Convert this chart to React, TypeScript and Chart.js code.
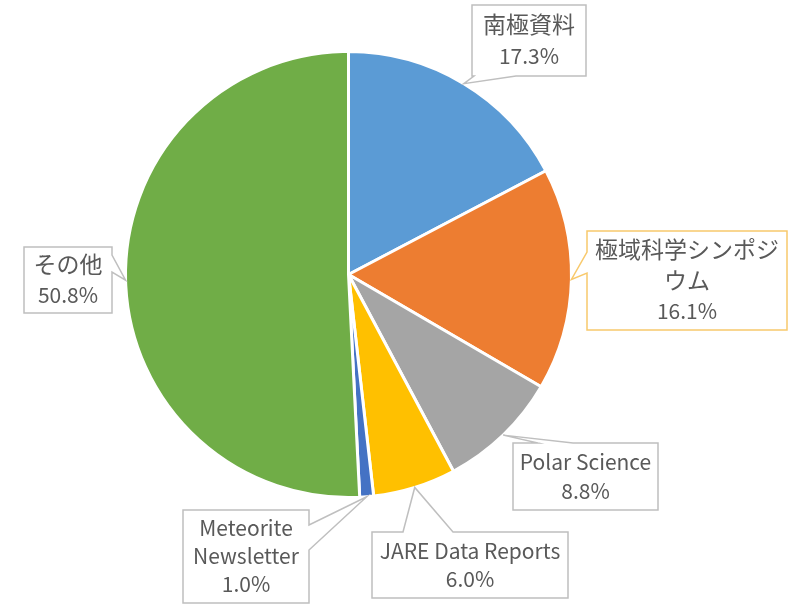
import React, { useEffect, useRef } from "react";
import { Chart, registerables } from "chart.js";

Chart.register(...registerables);

const categories = ["南極資料", "極域科学シンポジウム", "Polar Science", "JARE Data Reports", "Meteorite Newsletter", "その他"];
const shares = [17.3, 16.1, 8.8, 6.0, 1.0, 50.8];
const labelLines = [
  ["南極資料"],
  ["極域科学シンポジ", "ウム"],
  ["Polar Science"],
  ["JARE Data Reports"],
  ["Meteorite", "Newsletter"],
  ["その他"],
];
const sliceColors = ["#5B9BD5", "#ED7D31", "#A5A5A5", "#FFC000", "#4472C4", "#70AD47"];

type Callout = { x: number; y: number; w: number; h: number; side: "top" | "bottom" | "left" | "right"; a: number; b: number; border: string; lh: number };

const callouts: Callout[] = [
  { x: 472, y: 5, w: 114, h: 71, side: "bottom", a: 474, b: 516, border: "#BFBFBF", lh: 32 },
  { x: 587, y: 231, w: 200, h: 99, side: "left", a: 252, b: 273, border: "#F8C96C", lh: 31 },
  { x: 513, y: 443, w: 145, h: 67, side: "top", a: 538, b: 573, border: "#BFBFBF", lh: 29 },
  { x: 372, y: 532, w: 196, h: 66, side: "top", a: 403, b: 453, border: "#BFBFBF", lh: 28 },
  { x: 183, y: 510, w: 126, h: 93, side: "right", a: 525, b: 550, border: "#BFBFBF", lh: 28 },
  { x: 24, y: 247, w: 88, h: 66, side: "right", a: 255, b: 272, border: "#BFBFBF", lh: 31 },
];

const FAMILY = '"Noto Sans CJK JP", "Noto Sans", sans-serif';
const LATIN_FONT = "21px " + FAMILY;
const CJK_FONT = "23px " + FAMILY;
const isCJK = (s: string) => /[\u3040-\u30ff\u4e00-\u9fff]/.test(s);

const calloutPlugin = {
  id: "callouts",
  afterDatasetsDraw(chart: any) {
    const ctx: CanvasRenderingContext2D = chart.ctx;
    const meta = chart.getDatasetMeta(0);
    meta.data.forEach((arc: any, i: number) => {
      const p = arc.getProps(["x", "y", "startAngle", "endAngle", "outerRadius"], true);
      const mid = (p.startAngle + p.endAngle) / 2;
      const tx = p.x + Math.cos(mid) * p.outerRadius;
      const ty = p.y + Math.sin(mid) * p.outerRadius;
      const c = callouts[i];
      const { x, y, w, h, a, b } = c;
      ctx.save();
      ctx.beginPath();
      if (c.side === "top") {
        ctx.moveTo(x, y); ctx.lineTo(a, y); ctx.lineTo(tx, ty); ctx.lineTo(b, y);
        ctx.lineTo(x + w, y); ctx.lineTo(x + w, y + h); ctx.lineTo(x, y + h);
      } else if (c.side === "bottom") {
        ctx.moveTo(x, y); ctx.lineTo(x + w, y); ctx.lineTo(x + w, y + h); ctx.lineTo(b, y + h);
        ctx.lineTo(tx, ty); ctx.lineTo(a, y + h); ctx.lineTo(x, y + h);
      } else if (c.side === "left") {
        ctx.moveTo(x, y); ctx.lineTo(x + w, y); ctx.lineTo(x + w, y + h); ctx.lineTo(x, y + h);
        ctx.lineTo(x, b); ctx.lineTo(tx, ty); ctx.lineTo(x, a);
      } else {
        ctx.moveTo(x, y); ctx.lineTo(x + w, y); ctx.lineTo(x + w, a); ctx.lineTo(tx, ty);
        ctx.lineTo(x + w, b); ctx.lineTo(x + w, y + h); ctx.lineTo(x, y + h);
      }
      ctx.closePath();
      ctx.fillStyle = "#FFFFFF";
      ctx.fill();
      ctx.strokeStyle = c.border;
      ctx.lineWidth = 1.5;
      ctx.stroke();

      const lines = [...labelLines[i], shares[i].toFixed(1) + "%"];
      ctx.fillStyle = "#595959";
      ctx.textAlign = "center";
      ctx.textBaseline = "middle";
      const cx = x + w / 2;
      const cy = y + h / 2;
      const start = cy - ((lines.length - 1) * c.lh) / 2;
      lines.forEach((ln, k) => {
        ctx.font = isCJK(ln) ? CJK_FONT : LATIN_FONT;
        ctx.fillText(ln, cx, start + k * c.lh);
      });
      ctx.restore();
    });
  },
};

export default function App() {
  const ref = useRef<HTMLCanvasElement | null>(null);
  useEffect(() => {
    if (!ref.current) return;
    const chart = new Chart(ref.current, {
      type: "pie",
      data: {
        labels: categories,
        datasets: [
          {
            data: shares,
            backgroundColor: sliceColors,
            borderColor: "#FFFFFF",
            borderWidth: 3,
          },
        ],
      },
      options: {
        responsive: false,
        animation: false,
        layout: { padding: { left: 124, top: 50, right: 220, bottom: 108 } },
        plugins: { legend: { display: false }, tooltip: { enabled: false } },
      },
      plugins: [calloutPlugin],
    });
    return () => chart.destroy();
  }, []);
  return (
    <div style={{ position: "fixed", left: 0, top: 0, width: 793, height: 607, background: "#FFFFFF" }}>
      <canvas ref={ref} width={793} height={607} />
    </div>
  );
}
